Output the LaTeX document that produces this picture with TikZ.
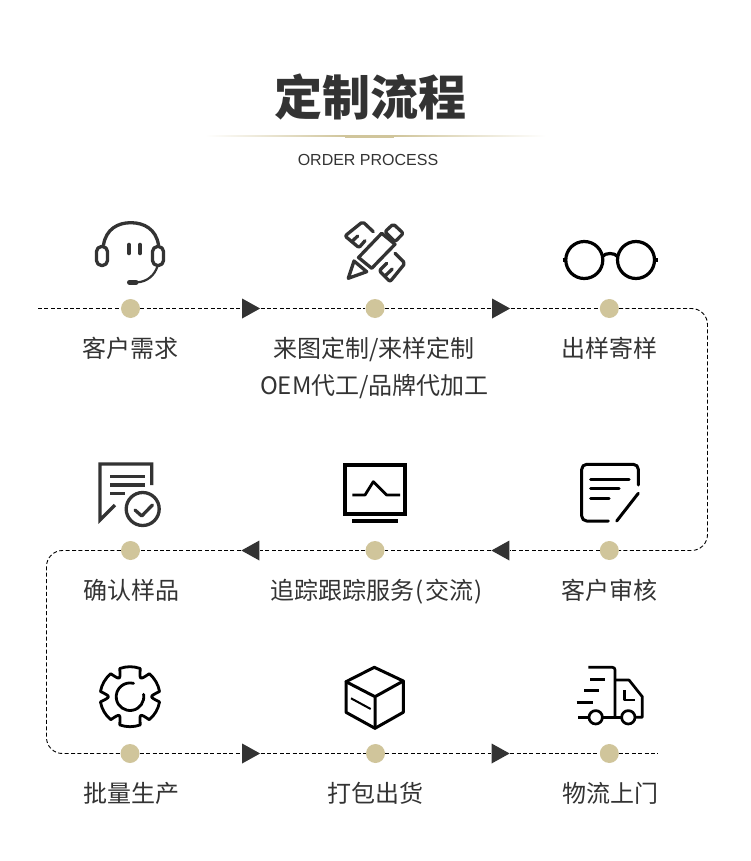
\documentclass[tikz,border=0pt]{standalone}
\usepackage{fontspec}
\setmainfont{Noto Sans CJK SC}
\newfontfamily\latinfont{Liberation Sans}
\usetikzlibrary{shapes.geometric,positioning}
\definecolor{gold}{HTML}{D0C59B}
\definecolor{inkgray}{HTML}{333333}
\tikzset{
  stepdot/.style={circle,fill=gold,inner sep=0pt,minimum size=19pt},
  steplabel/.style={text=inkgray,inner sep=0pt,anchor=base,font=\fontsize{24}{30}\selectfont},
  flowline/.style={draw=black,line width=0.9pt,dash pattern=on 4pt off 2.4pt},
  arrowR/.style={isosceles triangle,isosceles triangle stretches,fill=inkgray,inner sep=0pt,minimum width=20pt,minimum height=18pt},
  arrowL/.style={arrowR,shape border rotate=180},
  iconthin/.style={draw=inkgray,line width=3.3pt,line cap=round,line join=round},
  iconblack/.style={draw=black,line width=3pt,line cap=round,line join=round},
}
\begin{document}
\begin{tikzpicture}[x=1pt,y=-1pt]
  \useasboundingbox (0,0) rectangle (750,861);
  % title
  \node[text=inkgray,inner sep=0pt,font=\fontsize{48}{50}\selectfont\bfseries] (title) at (370,96.5) {定制流程};
  \node[text=inkgray,inner sep=0pt,font=\fontsize{16}{20}\selectfont\latinfont] (subtitle) at (368,159.5) {ORDER PROCESS};
  \shade[left color=white,right color=gold] (205,135.8) rectangle (345,136.8);
  \shade[left color=gold,right color=white] (394,135.8) rectangle (546,136.8);
  \fill[gold] (345,135) rectangle (394,138);
  % path corners and free ends
  \coordinate (start) at (38,308.5);
  \coordinate (stop) at (658,753.5);
  \coordinate (c1) at (707.5,308.5);
  \coordinate (c2) at (707.5,550.5);
  \coordinate (c3) at (46.5,550.5);
  \coordinate (c4) at (46.5,753.5);
  % dots
  \node[stepdot] (d1) at (130.5,308.5) {};
  \node[stepdot] (d2) at (375,308.5) {};
  \node[stepdot] (d3) at (609.3,308.5) {};
  \node[stepdot] (d4) at (609.3,550.5) {};
  \node[stepdot] (d5) at (375,550.5) {};
  \node[stepdot] (d6) at (130.5,550.5) {};
  \node[stepdot] (d7) at (130,753.5) {};
  \node[stepdot] (d8) at (375.5,753.5) {};
  \node[stepdot] (d9) at (609.3,753.5) {};
  % arrows
  \node[arrowR] (a1) at (248,308.5) {};
  \node[arrowR] (a2) at (498,308.5) {};
  \node[arrowL] (a3) at (503.5,550.5) {};
  \node[arrowL] (a4) at (253.5,550.5) {};
  \node[arrowR] (a5) at (248,753.5) {};
  \node[arrowR] (a6) at (497.5,753.5) {};
  % connectors
  \path[flowline]
    (start) -- (d1) (d1) -- (a1) (a1) -- (d2) (d2) -- (a2) (a2) -- (d3)
    (d4) -- (a3) (a3) -- (d5) (d5) -- (a4) (a4) -- (d6)
    (d7) -- (a5) (a5) -- (d8) (d8) -- (a6) (a6) -- (d9) (d9) -- (stop);
  \path[flowline,rounded corners=16pt] (d3) -- (c1) -- (c2) -- (d4);
  \path[flowline,rounded corners=16pt] (d6) -- (c3) -- (c4) -- (d7);
  % labels
  \node[steplabel] (l1) at (130.5,357) {客户需求};
  \node[steplabel] (l2) at (374,357) {来图定制/来样定制};
  \node[steplabel] (l2b) at (374.5,394) {OEM代工/品牌代加工};
  \node[steplabel] (l3) at (609,357) {出样寄样};
  \node[steplabel] (l4) at (609.5,599) {客户审核};
  \node[steplabel] (l5) at (376.5,599) {追踪跟踪服务\kern1pt(\kern2pt交流\kern1pt)};
  \node[steplabel] (l6) at (131,599) {确认样品};
  \node[steplabel] (l7) at (131,802) {批量生产};
  \node[steplabel] (l8) at (375.5,802) {打包出货};
  \node[steplabel] (l9) at (610,802) {物流上门};
  % headset
  \draw[iconthin] (103.5,245) .. controls (106,229) and (118,222.7) .. (130.7,222.7) .. controls (144,222.7) and (156,229) .. (158.5,245);
  \draw[iconthin,rounded corners=5pt] (96.5,246.5) rectangle (107.5,265.5);
  \draw[iconthin,rounded corners=5pt] (152.5,246.5) rectangle (163.5,265.5);
  \draw[iconthin,line width=4.6pt] (129,245) -- (129,253) (140,245) -- (140,253);
  \draw[iconthin,line width=2.2pt] (157.5,266) .. controls (155,275) and (147,282) .. (137,282.3);
  \draw[iconthin,line width=5pt] (129.5,282.3) -- (136,282.3);
  % pencil and rulers
  \draw[iconthin] (348.3,278.3) -- (354,261) -- (366.7,271.7) -- cycle;
  \draw[iconthin] (358.5,257.5) -- (381.7,233.3) -- (395,244.3) -- (371.7,268.3) -- cycle;
  \draw[iconthin,rounded corners=2pt] (385,231.7) -- (393.3,224) -- (403.3,233.3) -- (395,241.7) -- cycle;
  \draw[iconthin,rounded corners=2pt] (373.3,231.7) -- (362.7,221.7) -- (345,236) -- (359,247.7) -- (365,240.7);
  \draw[iconthin] (351.7,241.7) -- (357.7,236);
  \draw[iconthin,rounded corners=2pt] (395,253.3) -- (405,263.3) -- (390,281.7) -- (379.3,270.7) -- (386.7,263.3);
  \draw[iconthin] (385,276) -- (392.3,269);
  % glasses
  \draw[iconblack,line width=3.2pt] (584.3,260) circle[radius=18.5] (636,260) circle[radius=18.5];
  \draw[iconblack,line width=3.2pt] (602.5,256.5) .. controls (605,252.5) and (615,252.5) .. (617.5,256.5);
  \draw[iconblack,line width=3.2pt,line cap=butt] (562.5,260) -- (565.8,260) (654.5,260) -- (658,260);
  % certificate with tick
  \draw[iconthin,line join=miter,line cap=butt] (151.7,485) -- (151.7,464) -- (100,464) -- (100,520) -- (115,505);
  \draw[iconthin,line cap=butt] (110,476.7) -- (145,476.7) (110,485) -- (145,485) (110,493.3) -- (125,493.3);
  \draw[iconthin] (142.7,509) circle[radius=16.5];
  \draw[iconthin] (135,510) -- (141.7,516) -- (152.5,505);
  % monitor
  \draw[iconblack,line width=4pt,line join=miter] (345.3,465.3) rectangle (404.7,513.7);
  \draw[iconblack,line width=2.8pt,line cap=butt] (352.3,495) -- (365,495) -- (373.3,481.7) -- (386.7,495) -- (400,495);
  \draw[iconblack,line width=3.5pt,line cap=butt] (352.3,521) -- (397.7,521);
  % note and pen
  \draw[iconblack,rounded corners=5pt] (638.3,485) -- (638.3,464.3) -- (581.7,464.3) -- (581.7,521) -- (608.3,521);
  \draw[iconblack] (590.7,479) -- (629,479) (590.7,488.3) -- (619,488.3) (590.7,498.3) -- (609,498.3);
  \draw[iconblack] (638.3,493.3) -- (616.7,521);
  % gear
  \begin{scope}[shift={(130,696.7)}]
    \draw[iconblack,line width=2.8pt] (70:30) \foreach \a in {90,150,...,390}{
      arc[start angle=\a-20,end angle=\a+20,radius=30] .. controls (\a+30:19) .. (\a+40:30)} -- cycle;
    \draw[iconblack,line width=2.8pt] (-10:13.8) arc[start angle=-10,end angle=285,radius=13.8];
  \end{scope}
  % box
  \draw[iconblack] (374.3,667.3) -- (403.3,681) -- (403.3,712.3) -- (375,728.3) -- (346,712.3) -- (346,681.7) -- cycle;
  \draw[iconblack] (346,681.7) -- (375,696.7) -- (403.3,681) (375,696.7) -- (375,728.3);
  \draw[iconblack,line width=2pt,line cap=butt] (351,698.3) -- (370.7,709);
  % truck
  \draw[iconblack,line width=2.7pt,line cap=butt,rounded corners=2.5pt] (588.3,667.3) -- (615,667.3) -- (615,717.3);
  \draw[iconblack,line width=2.7pt,line cap=butt] (615,680) -- (629,680) -- (642.3,696.7) -- (642.3,717.3) -- (635,717.3);
  \draw[iconblack,line width=2.7pt] (595.7,717.3) circle[radius=6.7] (628.3,717.3) circle[radius=6.7];
  \draw[iconblack,line width=2.7pt,line cap=butt] (602.4,717.3) -- (621.6,717.3) (578.3,717.3) -- (589,717.3);
  \draw[iconblack,line width=2.7pt,line cap=butt] (590,679.3) -- (605,679.3) (584,690.7) -- (599.3,690.7) (576.7,702.3) -- (592.7,702.3);
  \draw[iconblack,line width=2.7pt,line cap=butt] (624.3,690) -- (624.3,700) -- (635,700);
\end{tikzpicture}
\end{document}
